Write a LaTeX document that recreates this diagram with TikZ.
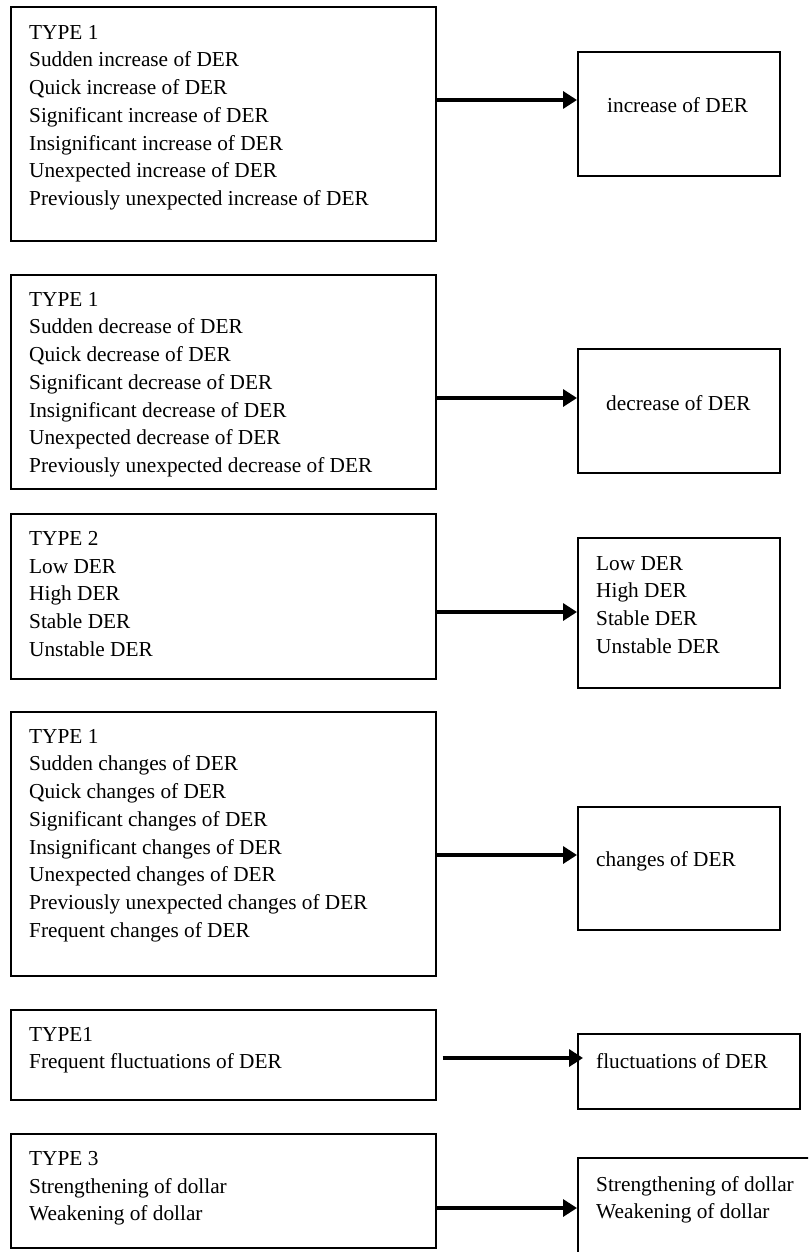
\documentclass[tikz,border=0pt]{standalone}
\usepackage{fontspec}
\setmainfont{Liberation Serif}
\usetikzlibrary{arrows.meta, positioning}
\tikzset{
  srcbox/.style={draw, line width=1.7pt, inner sep=0pt, anchor=north west, minimum width=425pt},
  dstbox/.style={draw, line width=1.7pt, inner sep=0pt, anchor=north west},
  boxtext/.style={anchor=north west, align=left, inner sep=0pt,
    font=\fontsize{21.3}{27.7}\selectfont},
  flowarrow/.style={-{Triangle[length=14pt, width=17pt]}, line width=3.3pt},
}
\begin{document}
\begin{tikzpicture}[x=1pt,y=-1pt]
  \clip (0,0) rectangle (808,1252);
  % Kaesten links und rechts, Pfeilzeilen
  \foreach \i/\top/\h in {1/6/234,2/274/214,3/513/165,4/711/264,5/1009/90,6/1133/114} {
    \node[srcbox, minimum height=\h pt] (src\i) at (10,\top) {};
  }
  \foreach \i/\top/\w/\h in {1/51/202/124,2/348/202/124,3/537/202/150,4/806/202/123,5/1033/222/75,6/1157/260/120} {
    \node[dstbox, minimum width=\w pt, minimum height=\h pt] (dst\i) at (577,\top) {};
  }
  \foreach \i/\y in {1/100,2/398,3/612,4/855,5/1058,6/1208} {
    \coordinate (row\i) at (0,\y);
  }
  \node[boxtext] (src1txt) at ([xshift=19pt, yshift=-19pt]src1.north west)
    {TYPE 1\\Sudden increase of DER\\Quick increase of DER\\Significant increase of DER\\Insignificant increase of DER\\Unexpected increase of DER\\Previously unexpected increase of DER};
  \node[boxtext] (src2txt) at ([xshift=19pt, yshift=-18pt]src2.north west)
    {TYPE 1\\Sudden decrease of DER\\Quick decrease of DER\\Significant decrease of DER\\Insignificant decrease of DER\\Unexpected decrease of DER\\Previously unexpected decrease of DER};
  \node[boxtext] (src3txt) at ([xshift=19pt, yshift=-18pt]src3.north west)
    {TYPE 2\\Low DER\\High DER\\Stable DER\\Unstable DER};
  \node[boxtext] (src4txt) at ([xshift=19pt, yshift=-18pt]src4.north west)
    {TYPE 1\\Sudden changes of DER\\Quick changes of DER\\Significant changes of DER\\Insignificant changes of DER\\Unexpected changes of DER\\Previously unexpected changes of DER\\Frequent changes of DER};
  \node[boxtext] (src5txt) at ([xshift=19pt, yshift=-18pt]src5.north west)
    {TYPE1\\Frequent fluctuations of DER};
  \node[boxtext] (src6txt) at ([xshift=19pt, yshift=-18pt]src6.north west)
    {TYPE 3\\Strengthening of dollar\\Weakening of dollar};
  \node[boxtext] (dst1txt) at ([xshift=30pt, yshift=-46pt]dst1.north west) {increase of DER};
  \node[boxtext] (dst2txt) at ([xshift=29pt, yshift=-47pt]dst2.north west) {decrease of DER};
  \node[boxtext] (dst3txt) at ([xshift=19pt, yshift=-19pt]dst3.north west)
    {Low DER\\High DER\\Stable DER\\Unstable DER};
  \node[boxtext] (dst4txt) at ([xshift=19pt, yshift=-45pt]dst4.north west) {changes of DER};
  \node[boxtext] (dst5txt) at ([xshift=19pt, yshift=-20pt]dst5.north west) {fluctuations of DER};
  \node[boxtext] (dst6txt) at ([xshift=19pt, yshift=-19pt]dst6.north west)
    {Strengthening of dollar\\Weakening of dollar};
  \foreach \i in {1,2,3,4,6} {
    \draw[flowarrow] (src\i.east |- row\i) -- (dst\i.west |- row\i);
  }
  \draw[flowarrow] ([xshift=6pt]src5.east |- row5) -- ([xshift=6pt]dst5.west |- row5);
\end{tikzpicture}
\end{document}
